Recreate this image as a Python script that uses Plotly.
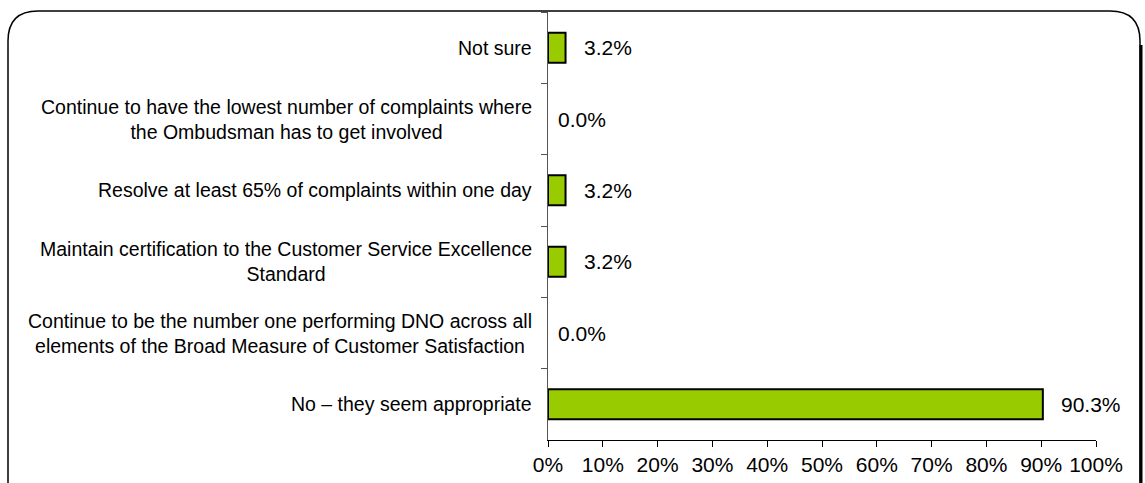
import plotly.graph_objects as go

# Data
categories = [
    "Not sure",
    "Continue to have the lowest number of complaints where<br>the Ombudsman has to get involved",
    "Resolve at least 65% of complaints within one day",
    "Maintain certification to the Customer Service Excellence<br>Standard",
    "Continue to be the number one performing DNO across all<br>elements of the Broad Measure of Customer Satisfaction",
    "No \u2013 they seem appropriate",
]
values = [3.2, 0.0, 3.2, 3.2, 0.0, 90.3]
tick_vals = [0, 10, 20, 30, 40, 50, 60, 70, 80, 90, 100]
tick_text = ["%d%%" % v for v in tick_vals]

# Constants (pixels)
W, H = 1145, 483
L, R, T, B = 548, 49, 12, 43
pw = W - L - R
ph = H - T - B
font = "Arial, 'Liberation Sans', sans-serif"


def px(x):
    return (x - L) / pw


def py(y):
    return (H - B - y) / ph


fig = go.Figure()

fig.add_trace(go.Bar(
    y=categories,
    x=values,
    orientation="h",
    width=0.42,
    marker=dict(color="#99CC00",
                line=dict(color="#000000", width=[2 if v > 0 else 0 for v in values])),
    cliponaxis=False,
))

# value labels
for c, v in zip(categories, values):
    fig.add_annotation(
        x=v, xref="x", xanchor="left", xshift=16 if v > 0 else 8,
        y=c, yref="y", yanchor="middle",
        text="%.1f%%" % v, showarrow=False,
        font=dict(family=font, size=21, color="#000000"),
    )

# category labels (centred multi-line like the original)
for c in categories:
    fig.add_annotation(
        x=px(534), xref="paper", xanchor="right",
        y=c, yref="y", yanchor="middle",
        text=c, showarrow=False, align="center",
        font=dict(family=font, size=19.5, color="#000000"),
    )

# rounded frame
x0, x1, y0, y1, r = px(8), px(1140), py(11), py(500), 30
rx, ry = r / pw, r / ph
path = ("M %f,%f L %f,%f Q %f,%f %f,%f L %f,%f Q %f,%f %f,%f L %f,%f"
        % (x0, y1, x0, y0 - ry, x0, y0, x0 + rx, y0,
           x1 - rx, y0, x1, y0, x1, y0 - ry, x1, y1))
fig.add_shape(type="path", xref="paper", yref="paper", path=path,
              line=dict(color="#000000", width=1.5))
fig.add_shape(type="line", xref="paper", yref="paper",
              x0=px(1141), x1=px(1141), y0=py(45), y1=py(500),
              line=dict(color="#000000", width=3))

fig.update_xaxes(
    range=[0, 100], tickvals=tick_vals, ticktext=tick_text,
    showline=True, linecolor="#000000", linewidth=1,
    ticks="outside", ticklen=6, tickcolor="#000000",
    showgrid=False, zeroline=False, ticklabelstandoff=0, automargin=False,
    tickfont=dict(family=font, size=21, color="#000000"),
)
fig.update_yaxes(
    autorange="reversed", showticklabels=False, automargin=False,
    showline=True, linecolor="#555555", linewidth=1,
    ticks="outside", ticklen=6, tickcolor="#555555", tickson="boundaries",
    showgrid=False,
)

fig.update_layout(
    width=W, height=H,
    margin=dict(l=L, r=R, t=T, b=B),
    plot_bgcolor="white", paper_bgcolor="white",
    showlegend=False, bargap=0.58,
)

fig.write_html("out.html", config={"displayModeBar": False},
               post_script="document.body.style.margin='0';")
